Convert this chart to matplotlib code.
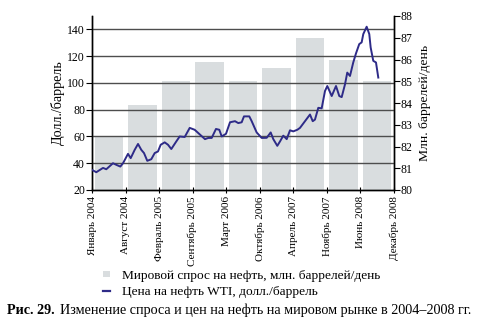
import numpy as np
import matplotlib
matplotlib.use("Agg")
import matplotlib.pyplot as plt
from matplotlib.patches import Patch
from matplotlib.lines import Line2D

plt.rcParams['font.family'] = ['Liberation Serif', 'DejaVu Serif']

tick_labels = ["Январь 2004", "Август 2004", "Февраль 2005", "Сентябрь 2005",
               "Март 2006", "Октябрь 2006", "Апрель 2007", "Ноябрь 2007",
               "Июнь 2008", "Декабрь 2008"]
total_months = 59  # Jan 2004 .. Dec 2008

# world demand, mln barrels/day (one bar per interval between ticks)
demand = [82.5, 83.9, 85.0, 85.9, 85.0, 85.6, 87.0, 86.0, 85.0]

# WTI price, months since Jan 2004 -> USD/barrel
price_month = [0.0, 0.84, 2.15, 2.79, 4.10, 4.75, 5.53, 6.06, 7.03, 7.56,
               8.34, 8.99, 9.63, 10.16, 10.80, 11.58, 12.25, 12.89, 13.42, 14.20,
               14.85, 15.49, 16.47, 17.13, 18.11, 19.09, 20.06, 22.07, 22.72, 23.38,
               24.22, 24.87, 25.34, 26.18, 26.96, 27.94, 28.58, 29.24, 29.69, 30.73,
               31.20, 32.17, 33.15, 34.13, 34.91, 35.42, 36.20, 36.73, 37.37, 38.04,
               38.68, 39.32, 40.11, 40.63, 41.61, 42.59, 43.12, 43.56, 44.21, 44.87,
               45.52, 45.97, 46.83, 47.67, 48.31, 48.78, 49.43, 49.87, 50.40, 51.04,
               51.57, 52.21, 52.68, 53.00, 53.66, 54.17, 54.44, 54.95, 55.48, 55.93]
price_usd = [35.0, 33.3, 36.5, 35.5, 40.0, 38.8, 37.5, 40.0, 47.0, 43.8,
             50.0, 54.4, 50.0, 47.6, 41.8, 43.0, 47.6, 48.8, 53.8, 55.6,
             53.8, 50.6, 56.3, 60.0, 59.6, 66.4, 65.0, 58.0, 58.9, 58.9,
             65.6, 65.0, 60.0, 62.0, 70.6, 71.4, 70.0, 70.6, 75.0, 75.0,
             71.4, 63.0, 58.9, 59.0, 63.0, 58.0, 53.0, 56.3, 60.6, 58.0,
             64.6, 63.8, 65.0, 66.4, 71.4, 76.4, 71.4, 72.6, 81.4, 81.0,
             94.0, 97.7, 90.2, 97.7, 90.2, 89.4, 99.0, 107.7, 105.2, 115.3,
             122.0, 129.0, 130.3, 136.5, 142.0, 136.5, 126.5, 116.5, 115.3, 104.0]

bar_color = "#d9dddf"
line_color = "#2e2b88"

fig = plt.figure(figsize=(4.86, 3.35), dpi=100)
ax = fig.add_axes([92 / 486, 1 - 190 / 335, 302 / 486, 174 / 335])
ax2 = ax.twinx()

ticks = np.linspace(0, total_months, len(tick_labels))
step = ticks[1] - ticks[0]
centers = (ticks[:-1] + ticks[1:]) / 2

ax2.bar(centers, np.array(demand) - 80, bottom=80, width=step * 0.85,
        color=bar_color, edgecolor="none")
ax2.set_ylim(80, 88)
ax2.set_yticks(range(80, 89))
ax2.set_ylabel("Млн. баррелей/день", fontsize=9.7, labelpad=4)

# price axis on top of the bars
ax.set_zorder(ax2.get_zorder() + 1)
ax.patch.set_visible(False)
for v in range(40, 141, 20):
    ax.axhline(v, color="#4d4d4d", lw=1.0, zorder=1)
ax.plot(price_month, price_usd, color=line_color, lw=1.4, zorder=3)
ax.set_ylim(20, 150)
ax.set_yticks(range(20, 141, 20))
ax.set_xlim(0, total_months)
ax.set_xticks(ticks)
ax.set_xticklabels(tick_labels, rotation=90, fontsize=8)
ax.set_ylabel("Долл./баррель", fontsize=10.2, labelpad=2)

for a in (ax, ax2):
    a.spines["top"].set_visible(False)
    for s in a.spines.values():
        s.set_linewidth(1.0)
ax.tick_params(axis="y", labelsize=8.5, length=4, width=0.8, pad=1)
ax2.tick_params(axis="y", labelsize=8.5, length=4, width=0.8, pad=1)
ax.tick_params(axis="x", direction="inout", length=5, width=0.8, pad=2)

handles = [Patch(facecolor=bar_color, edgecolor="none"),
           Line2D([0], [0], color=line_color, lw=1.6)]
labels = ["Мировой спрос на нефть, млн. баррелей/день",
          "Цена на нефть WTI, долл./баррель"]
fig.legend(handles, labels, loc="upper left", bbox_to_anchor=(103 / 486, 1 - 270 / 335),
           frameon=False, fontsize=9.6, handlelength=0.55, handleheight=0.35,
           handletextpad=0.9, labelspacing=0.3, borderpad=0, borderaxespad=0)

cap_y = 1 - 310 / 335
fig.text(7 / 486, cap_y, "Рис. 29.", fontsize=10.2, fontweight="bold", va="center")
fig.text(60 / 486, cap_y, "Изменение спроса и цен на нефть на мировом рынке в 2004–2008 гг.",
         fontsize=10.2, va="center")

fig.savefig("out.png", dpi=100)
